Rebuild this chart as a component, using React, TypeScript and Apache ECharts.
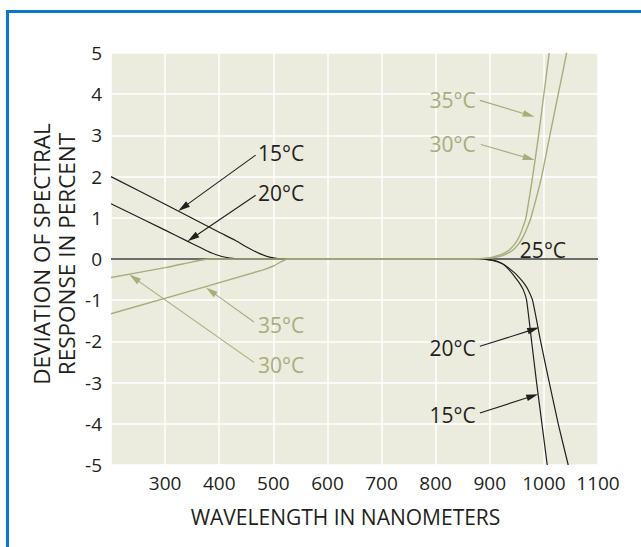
import React, { useEffect, useRef } from "react";
import * as echarts from "echarts";

// ---- Data (wavelength nm, deviation %) ----
const xTickValues = [300, 400, 500, 600, 700, 800, 900, 1000, 1100];
const yTickValues = [-5, -4, -3, -2, -1, 0, 1, 2, 3, 4, 5];

const zeroLine25 = [[200, 0], [1100, 0]];

const black15 = [
  [200, 2.0], [300, 1.33], [400, 0.65], [430, 0.45],
  [455, 0.26], [475, 0.13], [495, 0.04], [520, 0],
  [880, 0], [900, -0.02], [915, -0.07], [925, -0.13], [934, -0.24], [942, -0.36],
  [949.5, -0.49], [956, -0.61], [962, -0.75], [968, -1.0], [977.3, -2.0],
  [986.5, -3.0], [996.4, -4.0], [1006.2, -5.0],
];

const black20 = [
  [200, 1.34], [300, 0.7], [340, 0.44], [365, 0.28], [385, 0.15],
  [405, 0.06], [420, 0.02], [435, 0],
  [880, 0], [900, -0.02], [915, -0.06], [928, -0.15], [937, -0.24], [947, -0.35],
  [957, -0.49], [965, -0.62], [971, -0.75], [979, -1.0], [994, -2.0],
  [1010, -3.0], [1026.5, -4.0], [1045, -5.0],
];

const green30 = [
  [200, -0.45], [300, -0.21], [340, -0.1], [365, -0.03], [385, 0],
  [880, 0], [900, 0.02], [915, 0.05], [930, 0.12], [943, 0.22], [953, 0.36],
  [962, 0.55], [969.5, 0.77], [976, 1.0], [995.8, 2.0], [1011, 3.0],
  [1026.5, 4.0], [1042, 5.0],
];

const green35 = [
  [200, -1.33], [480, -0.27], [500, -0.17], [527, 0],
  [860, 0], [880, 0.01], [900, 0.03], [910, 0.06], [925, 0.13], [937, 0.23],
  [947, 0.38], [955, 0.56], [961.5, 0.78], [966.8, 1.0], [979.2, 2.0],
  [990.2, 3.0], [1000, 4.0], [1009.8, 5.0],
];

// annotation labels: text, colour key, label anchor (data), arrow start, arrow tip
const annoText = ["15°C", "20°C", "35°C", "30°C", "35°C", "30°C", "25°C", "20°C", "15°C"];
const annoColor = ["k", "k", "g", "g", "g", "g", "k", "k", "k"];
const annoAlign = ["left", "left", "left", "left", "right", "right", "left", "right", "right"];
const annoAnchor = [
  [471.5, 2.573], [471.5, 1.602], [471.5, -1.609], [471.5, -2.563],
  [874, 3.852], [874, 2.784], [955.6, 0.211], [874, -2.15], [874, -3.777],
];
const arrowFrom = [
  [467.3, 2.52], [467.3, 1.546], [464.2, -1.53], [464.2, -2.51],
  [881.7, 3.85], [883.5, 2.78], null, [881.7, -2.12], [881.7, -3.74],
];
const arrowTo = [
  [324.3, 1.165], [341.5, 0.43], [375.4, -0.694], [233.7, -0.379],
  [983, 3.45], [983, 2.4], null, [991.3, -1.665], [989.5, -3.28],
];

const FONT = "'Open Sans', 'Noto Sans', sans-serif";
const BLACK = "#231f20";
const GREEN = "#a8ad7b";
const GRAY = "#6d6d6a";
const BEIGE = "#ebebde";
const BLUE = "#0a7ac2";

export default function App() {
  const ref = useRef<HTMLDivElement>(null);

  useEffect(() => {
    const chart = echarts.init(ref.current!, null, { renderer: "svg" });
    const lineSeries = (name: string, data: number[][], color: string, width: number) => ({
      type: "line",
      name,
      data,
      showSymbol: false,
      symbol: "none",
      smooth: 0.2,
      lineStyle: { color, width },
      silent: true,
    });
    chart.setOption({
      animation: false,
      backgroundColor: "#ffffff",
      grid: {
        left: 111,
        right: 43,
        top: 53,
        bottom: 82,
        show: true,
        backgroundColor: BEIGE,
        borderWidth: 0,
      },
      xAxis: {
        type: "value",
        min: 200,
        max: 1100,
        interval: 100,
        axisLine: { show: false },
        axisTick: { show: false },
        splitLine: { show: true, lineStyle: { color: "#ffffff", width: 1.5 } },
        axisLabel: {
          fontSize: 19,
          color: BLACK,
          fontFamily: FONT,
          margin: 8,
          formatter: (v: number) => (xTickValues.includes(v) ? String(v) : ""),
        },
      },
      yAxis: {
        type: "value",
        min: -5,
        max: 5,
        interval: 1,
        axisLine: { show: false },
        axisTick: { show: false },
        splitLine: { show: true, lineStyle: { color: "#ffffff", width: 1.5 } },
        axisLabel: {
          fontSize: 19,
          color: BLACK,
          fontFamily: FONT,
          margin: 9,
          formatter: (v: number) => (yTickValues.includes(v) ? String(v) : ""),
        },
      },
      series: [
        lineSeries("25°C", zeroLine25, GRAY, 2),
        lineSeries("15°C", black15, BLACK, 1.2),
        lineSeries("20°C", black20, BLACK, 1.2),
        lineSeries("30°C", green30, GREEN, 1.4),
        lineSeries("35°C", green35, GREEN, 1.4),
      ],
    });

    const toPx = (p: number[]) => chart.convertToPixel({ gridIndex: 0 }, p) as number[];
    const graphics: any[] = [];
    // blue frame (top and left visible)
    graphics.push({ type: "rect", shape: { x: 6, y: 10, width: 700, height: 3 }, style: { fill: BLUE }, silent: true });
    graphics.push({ type: "rect", shape: { x: 6, y: 10, width: 3, height: 600 }, style: { fill: BLUE }, silent: true });

    annoText.forEach((t, i) => {
      const col = annoColor[i] === "g" ? GREEN : BLACK;
      const a = toPx(annoAnchor[i]);
      graphics.push({
        type: "text",
        x: a[0],
        y: a[1],
        silent: true,
        style: {
          text: t,
          fill: col,
          font: `21px ${FONT}`,
          align: annoAlign[i],
          verticalAlign: "middle",
        },
      });
      const f = arrowFrom[i];
      const to = arrowTo[i];
      if (f && to) {
        const s = toPx(f);
        const e = toPx(to);
        const dx = e[0] - s[0];
        const dy = e[1] - s[1];
        const len = Math.sqrt(dx * dx + dy * dy);
        const ux = dx / len;
        const uy = dy / len;
        const L = 12;
        const W = 3.3;
        const bx = e[0] - ux * L;
        const by = e[1] - uy * L;
        graphics.push({
          type: "line",
          silent: true,
          shape: { x1: s[0], y1: s[1], x2: bx + ux * 2, y2: by + uy * 2 },
          style: { stroke: col, lineWidth: 1.1 },
        });
        graphics.push({
          type: "polygon",
          silent: true,
          shape: {
            points: [
              [e[0], e[1]],
              [bx - uy * W, by + ux * W],
              [bx + uy * W, by - ux * W],
            ],
          },
          style: { fill: col },
        });
      }
    });

    // axis titles
    graphics.push({
      type: "text",
      x: 345.5,
      y: 516.5,
      silent: true,
      style: { text: "WAVELENGTH IN NANOMETERS", fill: BLACK, font: `21px ${FONT}`, align: "center", verticalAlign: "middle" },
    });
    graphics.push({
      type: "text",
      x: 54,
      y: 254,
      rotation: Math.PI / 2,
      silent: true,
      style: {
        text: "DEVIATION OF SPECTRAL\nRESPONSE IN PERCENT",
        fill: BLACK,
        font: `22.5px ${FONT}`,
        lineHeight: 25,
        align: "center",
        verticalAlign: "middle",
      },
    });

    chart.setOption({ graphic: graphics });
    return () => chart.dispose();
  }, []);

  return (
    <div
      ref={ref}
      style={{ position: "absolute", left: 0, top: 0, width: 641, height: 547 }}
    />
  );
}
